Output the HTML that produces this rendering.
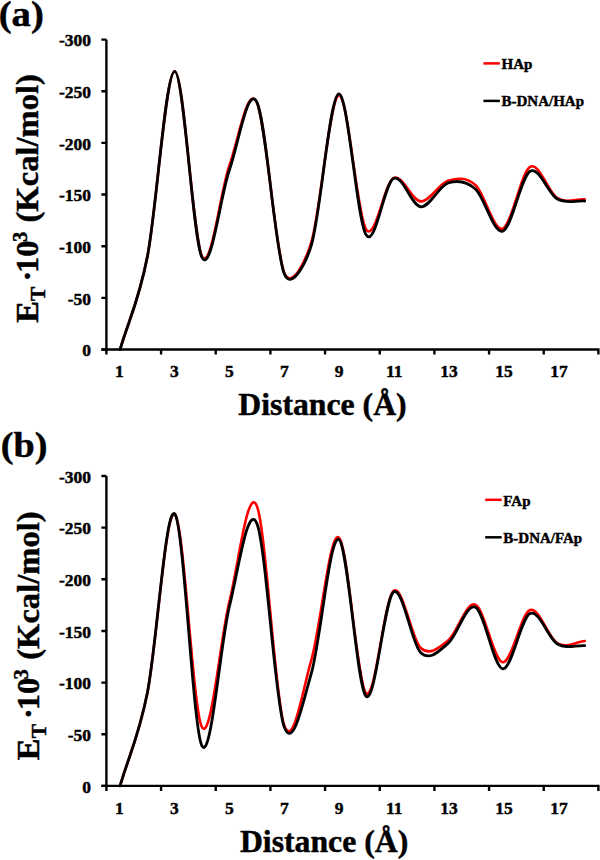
<!DOCTYPE html>
<html><head><meta charset="utf-8"><style>
html,body{margin:0;padding:0;background:#fff;}
svg{display:block;}
text{font-family:"Liberation Serif",serif;font-weight:bold;fill:#000;stroke:#000;stroke-width:0.45px;stroke-linejoin:round;}
.tl{font-size:17.5px;}
.xt{font-size:31.75px;}
.yt{font-size:33px;}
.pl{font-size:37.2px;}
.lg{font-size:15px;}
</style></head>
<body><svg width="600" height="860" viewBox="0 0 600 860">
<rect width="600" height="860" fill="#fff"/>
<path d="M120.07,349.50 C129.18,318.54 138.29,302.98 147.40,256.61 C156.51,210.25 165.62,71.31 174.73,71.30 C183.84,71.29 192.96,240.86 202.07,256.54 C211.18,272.22 220.29,191.15 229.40,165.41 C238.51,139.66 247.62,84.28 256.73,102.07 C265.84,119.85 274.96,248.78 284.07,272.11 C291.45,291.03 305.41,261.46 311.40,242.06 C320.51,212.56 329.62,97.25 338.73,95.14 C347.84,93.04 356.96,215.63 366.07,229.44 C375.18,243.26 384.29,182.74 393.40,178.05 C402.51,173.37 411.62,200.90 420.73,201.34 C429.84,201.77 438.96,183.40 448.07,180.68 C457.18,177.95 466.29,176.98 475.40,184.98 C484.51,192.99 493.62,231.73 502.73,228.70 C511.84,225.68 520.96,171.93 530.07,166.83 C539.18,161.74 548.29,192.71 557.40,198.12 C566.51,203.54 575.62,198.92 584.73,199.31" fill="none" stroke="#f00" stroke-width="2.6" stroke-linejoin="round" stroke-linecap="round"/>
<path d="M120.07,349.50 C129.18,318.54 138.29,302.98 147.40,256.61 C156.51,210.25 165.62,71.13 174.73,71.30 C183.84,71.48 192.96,241.22 202.07,257.68 C211.18,274.13 220.29,195.98 229.40,170.03 C238.51,144.07 247.62,84.73 256.73,101.94 C265.84,119.16 274.96,249.47 284.07,273.32 C291.09,291.69 305.67,263.84 311.40,245.03 C320.51,215.14 329.62,95.65 338.73,93.96 C347.84,92.26 356.96,220.77 366.07,234.86 C375.18,248.95 384.29,183.18 393.40,178.50 C402.51,173.82 411.62,206.02 420.73,206.77 C429.84,207.52 438.96,185.98 448.07,183.01 C457.18,180.05 466.29,180.96 475.40,188.98 C484.51,197.01 493.62,234.11 502.73,231.15 C511.84,228.19 520.96,176.58 530.07,171.24 C539.18,165.89 548.29,194.12 557.40,199.07 C566.51,204.03 575.62,200.35 584.73,200.99" fill="none" stroke="#000" stroke-width="2.8" stroke-linejoin="round" stroke-linecap="round"/>
<path d="M106.4,39.6 V354.5 M101.4,349.5 H598.4 V354.5" fill="none" stroke="#000" stroke-width="2.4"/>
<path d="M101.4,39.60 H106.4 M101.4,91.25 H106.4 M101.4,142.90 H106.4 M101.4,194.55 H106.4 M101.4,246.20 H106.4 M101.4,297.85 H106.4 M101.4,349.50 H106.4 M161.07,349.5 V354.5 M215.73,349.5 V354.5 M270.40,349.5 V354.5 M325.07,349.5 V354.5 M379.73,349.5 V354.5 M434.40,349.5 V354.5 M489.07,349.5 V354.5 M543.73,349.5 V354.5" fill="none" stroke="#000" stroke-width="2.4"/>
<text x="91" y="46.35" text-anchor="end" class="tl">-300</text>
<text x="91" y="98.00" text-anchor="end" class="tl">-250</text>
<text x="91" y="149.65" text-anchor="end" class="tl">-200</text>
<text x="91" y="201.30" text-anchor="end" class="tl">-150</text>
<text x="91" y="252.95" text-anchor="end" class="tl">-100</text>
<text x="91" y="304.60" text-anchor="end" class="tl">-50</text>
<text x="91" y="356.25" text-anchor="end" class="tl">0</text>
<text x="119.40" y="377.10" text-anchor="middle" class="tl">1</text>
<text x="174.35" y="377.10" text-anchor="middle" class="tl">3</text>
<text x="229.30" y="377.10" text-anchor="middle" class="tl">5</text>
<text x="284.25" y="377.10" text-anchor="middle" class="tl">7</text>
<text x="339.20" y="377.10" text-anchor="middle" class="tl">9</text>
<text x="394.15" y="377.10" text-anchor="middle" class="tl">11</text>
<text x="449.10" y="377.10" text-anchor="middle" class="tl">13</text>
<text x="504.05" y="377.10" text-anchor="middle" class="tl">15</text>
<text x="559.00" y="377.10" text-anchor="middle" class="tl">17</text>
<text x="322.50" y="415.30" text-anchor="middle" class="xt">Distance (Å)</text>
<text transform="translate(37.90,322.85) rotate(-90)" font-size="32.5">E</text>
<text transform="translate(44.70,301.00) rotate(-90)" font-size="21.5">T</text>
<text transform="translate(37.90,281.60) rotate(-90)" font-size="32.5">·</text>
<text transform="translate(37.90,272.90) rotate(-90)" font-size="32.5">10</text>
<text transform="translate(27.20,242.10) rotate(-90)" font-size="20.5">3</text>
<text transform="translate(37.90,222.50) rotate(-90)" font-size="32.6">(Kcal/mol)</text>
<text transform="translate(-1.3,26.1) scale(1.063,1)" font-size="36.4">(a)</text>
<path d="M483.4,63.4 H499.9" stroke="#f00" stroke-width="2.5"/>
<path d="M483.4,100.9 H499.9" stroke="#000" stroke-width="2.5"/>
<text x="501.5" y="69.1" class="lg">HAp</text>
<text x="501.5" y="106.4" class="lg">B-DNA/HAp</text>
<path d="M120.07,785.90 C129.18,754.83 138.29,738.03 147.40,692.69 C156.51,647.36 165.62,508.10 174.73,513.88 C183.84,519.66 192.96,712.76 202.07,727.39 C211.18,742.02 220.29,638.62 229.40,601.67 C238.51,564.73 247.62,485.14 256.73,505.70 C265.84,526.25 274.96,699.32 284.07,725.00 C293.18,750.69 302.29,691.11 311.40,659.82 C320.51,628.53 329.62,531.69 338.73,537.27 C347.84,542.85 356.96,684.35 366.07,693.30 C375.18,702.25 384.29,598.51 393.40,590.95 C402.51,583.39 411.62,639.67 420.73,647.94 C429.84,656.22 438.96,647.80 448.07,640.59 C457.18,633.38 466.29,601.06 475.40,604.67 C484.51,608.28 493.62,661.37 502.73,662.27 C511.84,663.17 520.96,613.23 530.07,610.08 C539.18,606.93 548.29,638.20 557.40,643.37 C566.51,648.53 575.62,641.84 584.73,641.07" fill="none" stroke="#f00" stroke-width="2.6" stroke-linejoin="round" stroke-linecap="round"/>
<path d="M120.07,785.90 C129.18,754.83 138.29,738.03 147.40,692.69 C156.51,647.36 165.62,504.98 174.73,513.88 C183.84,522.78 192.96,730.68 202.07,746.12 C211.18,761.56 220.29,643.72 229.40,606.54 C238.51,569.36 247.62,503.04 256.73,523.05 C265.84,543.06 274.96,701.61 284.07,726.61 C293.18,751.60 302.97,701.89 311.40,673.02 C320.51,641.82 329.62,535.48 338.73,539.36 C347.84,543.25 356.96,687.52 366.07,696.33 C375.18,705.13 384.29,599.45 393.40,592.19 C402.51,584.93 411.62,644.23 420.73,652.76 C429.84,661.29 438.96,650.97 448.07,643.37 C457.18,635.77 466.29,602.93 475.40,607.16 C484.51,611.39 493.62,667.71 502.73,668.76 C511.84,669.81 520.96,617.59 530.07,613.46 C539.18,609.33 548.29,638.60 557.40,643.97 C566.51,649.33 575.62,645.10 584.73,645.67" fill="none" stroke="#000" stroke-width="2.8" stroke-linejoin="round" stroke-linecap="round"/>
<path d="M106.4,476.0 V790.9 M101.4,785.9 H598.4 V790.9" fill="none" stroke="#000" stroke-width="2.4"/>
<path d="M101.4,476.00 H106.4 M101.4,527.65 H106.4 M101.4,579.30 H106.4 M101.4,630.95 H106.4 M101.4,682.60 H106.4 M101.4,734.25 H106.4 M101.4,785.90 H106.4 M161.07,785.9 V790.9 M215.73,785.9 V790.9 M270.40,785.9 V790.9 M325.07,785.9 V790.9 M379.73,785.9 V790.9 M434.40,785.9 V790.9 M489.07,785.9 V790.9 M543.73,785.9 V790.9" fill="none" stroke="#000" stroke-width="2.4"/>
<text x="91" y="482.75" text-anchor="end" class="tl">-300</text>
<text x="91" y="534.40" text-anchor="end" class="tl">-250</text>
<text x="91" y="586.05" text-anchor="end" class="tl">-200</text>
<text x="91" y="637.70" text-anchor="end" class="tl">-150</text>
<text x="91" y="689.35" text-anchor="end" class="tl">-100</text>
<text x="91" y="741.00" text-anchor="end" class="tl">-50</text>
<text x="91" y="792.65" text-anchor="end" class="tl">0</text>
<text x="119.40" y="813.50" text-anchor="middle" class="tl">1</text>
<text x="174.35" y="813.50" text-anchor="middle" class="tl">3</text>
<text x="229.30" y="813.50" text-anchor="middle" class="tl">5</text>
<text x="284.25" y="813.50" text-anchor="middle" class="tl">7</text>
<text x="339.20" y="813.50" text-anchor="middle" class="tl">9</text>
<text x="394.15" y="813.50" text-anchor="middle" class="tl">11</text>
<text x="449.10" y="813.50" text-anchor="middle" class="tl">13</text>
<text x="504.05" y="813.50" text-anchor="middle" class="tl">15</text>
<text x="559.00" y="813.50" text-anchor="middle" class="tl">17</text>
<text x="324.10" y="852.30" text-anchor="middle" class="xt">Distance (Å)</text>
<text transform="translate(38.70,760.15) rotate(-90)" font-size="32.5">E</text>
<text transform="translate(45.50,738.30) rotate(-90)" font-size="21.5">T</text>
<text transform="translate(38.70,718.90) rotate(-90)" font-size="32.5">·</text>
<text transform="translate(38.70,710.20) rotate(-90)" font-size="32.5">10</text>
<text transform="translate(28.00,679.40) rotate(-90)" font-size="20.5">3</text>
<text transform="translate(38.70,659.80) rotate(-90)" font-size="32.6">(Kcal/mol)</text>
<text transform="translate(0.82,456.95) scale(1.067,1)" font-size="35.8">(b)</text>
<path d="M485.2,499.79999999999995 H501.7" stroke="#f00" stroke-width="2.5"/>
<path d="M485.2,537.3 H501.7" stroke="#000" stroke-width="2.5"/>
<text x="503.3" y="505.5" class="lg">FAp</text>
<text x="503.3" y="542.8" class="lg">B-DNA/FAp</text>
</svg></body></html>
